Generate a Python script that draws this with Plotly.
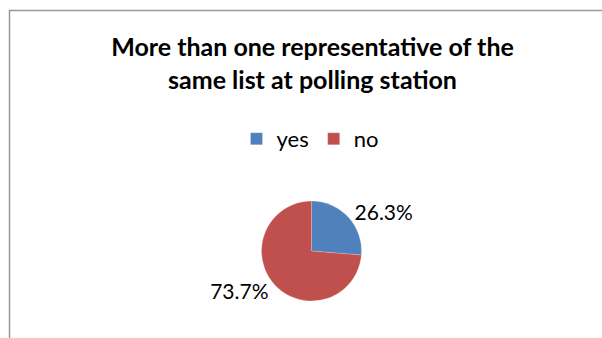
import plotly.graph_objects as go

labels = ["yes", "no"]
values = [26.3, 73.7]
colors = ["#4F81BD", "#C0504D"]
title_text = "More than one representative of the<br>same list at polling station"

W, H = 602, 338
fig = go.Figure()
fig.add_trace(go.Pie(
    labels=labels, values=values, sort=False, direction="clockwise", rotation=0,
    marker=dict(colors=colors, line=dict(color="rgba(255,255,255,0.4)", width=0.5)),
    textinfo="percent", texttemplate="%{percent:.1%}", textposition="outside",
    textfont=dict(family="Lato", size=21, color="#000000"),
    domain=dict(x=[261.5 / W, 361.5 / W], y=[1 - 301 / H, 1 - 201 / H]),
    showlegend=True, hoverinfo="label+percent",
))
fig.add_shape(type="rect", xref="paper", yref="paper",
              x0=9.5 / W, y0=1 - 10.5 / H, x1=1.05, y1=-0.05,
              line=dict(color="#999999", width=1.5))
fig.update_layout(
    width=W, height=H, margin=dict(l=0, r=0, t=0, b=0),
    paper_bgcolor="white", plot_bgcolor="white",
    title=dict(text="<b>" + title_text + "</b>", x=312.5 / W, xanchor="center",
               y=1 - 56 / H, yanchor="top",
               font=dict(family="Lato", size=25, color="#000000")),
    legend=dict(orientation="h", x=310 / W, xanchor="center", y=1 - 139 / H, yanchor="middle",
                font=dict(family="Lato", size=22, color="#000000"),
                itemwidth=30, traceorder="normal"),
)
fig.write_html("out.html")
